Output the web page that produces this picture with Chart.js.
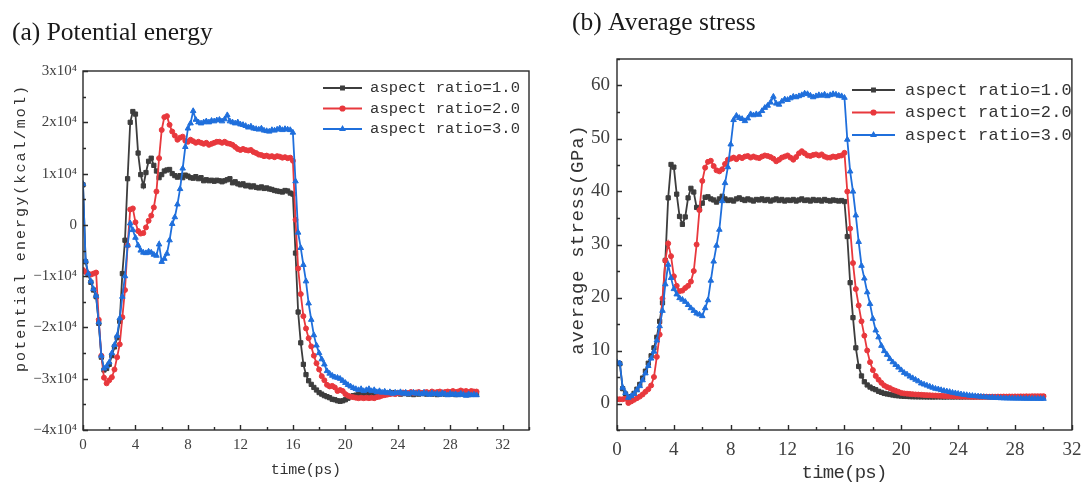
<!DOCTYPE html>
<html>
<head>
<meta charset="utf-8">
<script src="https://cdn.jsdelivr.net/npm/chart.js@4.4.1/dist/chart.umd.min.js"></script>
<style>
  html, body { margin: 0; padding: 0; background: #fff; }
  #wrap { position: relative; width: 1090px; height: 487px; }
  canvas { position: absolute; top: 0; }
  #peChart { left: 0; }
  #stressChart { left: 545px; }
</style>
</head>
<body>
<div id="wrap">
  <canvas id="peChart" width="545" height="487"></canvas>
  <canvas id="stressChart" width="545" height="487"></canvas>
</div>
<script>
// sampling times (ps)
const time = [
  0, 0.2, 0.4, 0.6, 0.8, 1, 1.2, 1.4, 1.6, 1.8,
  2, 2.2, 2.4, 2.6, 2.8, 3, 3.2, 3.4, 3.6, 3.8,
  4, 4.2, 4.4, 4.6, 4.8, 5, 5.2, 5.4, 5.6, 5.8,
  6, 6.2, 6.4, 6.6, 6.8, 7, 7.2, 7.4, 7.6, 7.8,
  8, 8.2, 8.4, 8.6, 8.8, 9, 9.2, 9.4, 9.6, 9.8,
  10, 10.2, 10.4, 10.6, 10.8, 11, 11.2, 11.4, 11.6, 11.8,
  12, 12.2, 12.4, 12.6, 12.8, 13, 13.2, 13.4, 13.6, 13.8,
  14, 14.2, 14.4, 14.6, 14.8, 15, 15.2, 15.4, 15.6, 15.8,
  16, 16.2, 16.4, 16.6, 16.8, 17, 17.2, 17.4, 17.6, 17.8,
  18, 18.2, 18.4, 18.6, 18.8, 19, 19.2, 19.4, 19.6, 19.8,
  20, 20.2, 20.4, 20.6, 20.8, 21, 21.2, 21.4, 21.6, 21.8,
  22, 22.2, 22.4, 22.6, 22.8, 23, 23.2, 23.4, 23.6, 23.8,
  24, 24.2, 24.4, 24.6, 24.8, 25, 25.2, 25.4, 25.6, 25.8,
  26, 26.2, 26.4, 26.6, 26.8, 27, 27.2, 27.4, 27.6, 27.8,
  28, 28.2, 28.4, 28.6, 28.8, 29, 29.2, 29.4, 29.6, 29.8,
  30
];

// (a) potential energy, in units of 10^4 kcal/mol
const peRatio1 = [
  0.78, -0.72, -0.97, -1.12, -1.27, -1.40, -1.92, -2.58, -2.83, -2.80,
  -2.72, -2.55, -2.38, -2.20, -1.88, -0.95, -0.30, 0.90, 2.00, 2.21,
  2.16, 1.40, 0.98, 0.76, 1.02, 1.24, 1.30, 1.16, 1.05, 0.92,
  0.98, 1.05, 1.07, 1.08, 1.00, 0.96, 0.93, 0.96, 0.92, 0.97,
  0.95, 0.92, 0.91, 0.94, 0.90, 0.92, 0.86, 0.88, 0.86, 0.87,
  0.85, 0.87, 0.86, 0.84, 0.86, 0.88, 0.90, 0.82, 0.84, 0.80,
  0.78, 0.80, 0.76, 0.77, 0.74, 0.76, 0.73, 0.72, 0.74, 0.71,
  0.72, 0.70, 0.69, 0.67, 0.66, 0.65, 0.64, 0.67, 0.66, 0.62,
  0.60, -0.55, -1.70, -2.30, -2.72, -2.92, -3.04, -3.11, -3.17, -3.22,
  -3.27, -3.30, -3.33, -3.35, -3.37, -3.40, -3.41, -3.43, -3.44, -3.43,
  -3.41, -3.38, -3.35, -3.33, -3.32, -3.31, -3.30, -3.31, -3.30, -3.29,
  -3.30, -3.29, -3.30, -3.28, -3.29, -3.30, -3.28, -3.29, -3.27, -3.29,
  -3.28, -3.30, -3.29, -3.28, -3.30, -3.29, -3.31, -3.29, -3.30, -3.28,
  -3.29, -3.30, -3.28, -3.30, -3.29, -3.31, -3.30, -3.28, -3.30, -3.29,
  -3.30, -3.29, -3.31, -3.30, -3.28, -3.30, -3.29, -3.31, -3.30, -3.29,
  -3.30
];
const peRatio2 = [
  -0.88, -0.92, -0.95, -0.97, -0.95, -0.93, -1.85, -2.55, -2.98, -3.09,
  -3.03, -2.97, -2.82, -2.58, -2.33, -1.80, -1.27, -0.40, 0.30, 0.32,
  0.05, -0.12, -0.17, -0.16, -0.05, 0.08, 0.18, 0.34, 0.65, 1.30,
  1.85, 2.10, 2.12, 1.95, 1.82, 1.74, 1.66, 1.70, 1.72, 1.64,
  1.62, 1.66, 1.63, 1.60, 1.62, 1.60, 1.58, 1.60, 1.56, 1.58,
  1.60, 1.62, 1.62, 1.60, 1.62, 1.59, 1.58, 1.56, 1.52, 1.48,
  1.46, 1.48, 1.46, 1.45, 1.46, 1.42, 1.40, 1.37, 1.36, 1.34,
  1.35, 1.33, 1.34, 1.32, 1.34, 1.33, 1.31, 1.32, 1.30, 1.31,
  1.25, 0.10, -0.85, -1.35, -1.78, -2.02, -2.21, -2.37, -2.55, -2.70,
  -2.82, -2.95, -3.03, -3.12, -3.15, -3.14, -3.17, -3.24, -3.22, -3.24,
  -3.30, -3.33, -3.35, -3.36, -3.37, -3.38, -3.37, -3.38, -3.37, -3.38,
  -3.37, -3.38, -3.36, -3.35, -3.33, -3.32, -3.31, -3.30, -3.29, -3.30,
  -3.28, -3.29, -3.27, -3.28, -3.28, -3.26, -3.28, -3.27, -3.26, -3.28,
  -3.27, -3.26, -3.28, -3.25, -3.27, -3.26, -3.25, -3.27, -3.26, -3.25,
  -3.26, -3.24, -3.26, -3.25, -3.23, -3.25, -3.24, -3.26, -3.24, -3.25,
  -3.25
];
const peRatio3 = [
  0.80, -0.70, -0.95, -1.10, -1.25, -1.38, -1.90, -2.55, -2.80, -2.76,
  -2.68, -2.50, -2.34, -2.16, -1.82, -1.40, -1.00, -0.40, 0.03, -0.10,
  -0.25, -0.40, -0.50, -0.54, -0.55, -0.52, -0.54, -0.58, -0.60, -0.38,
  -0.72, -0.66, -0.56, -0.30, 0.02, 0.15, 0.40, 0.70, 1.10, 1.52,
  1.88, 1.98, 2.22, 2.05, 2.00, 1.98, 2.00, 2.02, 2.00, 2.03,
  2.02, 2.04, 2.05, 2.02, 2.06, 2.14, 2.02, 2.00, 1.98, 2.00,
  1.96, 1.95, 1.93, 1.90, 1.92, 1.88, 1.87, 1.86, 1.88, 1.84,
  1.83, 1.82, 1.85, 1.84, 1.86, 1.88, 1.85, 1.87, 1.86, 1.85,
  1.80, 0.85, -0.15, -0.45, -0.78, -1.10, -1.53, -1.85, -2.15, -2.35,
  -2.50, -2.62, -2.72, -2.85, -2.90, -2.94, -2.97, -2.98, -3.00, -3.04,
  -3.08, -3.12, -3.15, -3.18, -3.20, -3.22, -3.20, -3.24, -3.22, -3.20,
  -3.24, -3.22, -3.26, -3.24, -3.27, -3.25, -3.28, -3.26, -3.29, -3.27,
  -3.28, -3.26, -3.29, -3.27, -3.30, -3.28, -3.27, -3.29, -3.28, -3.30,
  -3.27, -3.29, -3.31, -3.28, -3.30, -3.29, -3.31, -3.28, -3.30, -3.32,
  -3.29, -3.31, -3.30, -3.32, -3.29, -3.31, -3.33, -3.30, -3.32, -3.31,
  -3.32
];

// (b) average stress, GPa
const stressRatio1 = [
  7.6, 7.5, 2.8, 1.8, 1.0, 1.3, 1.9, 2.7, 3.6, 4.8,
  6.1, 7.6, 9.0, 10.5, 12.5, 15.5, 19.0, 27.0, 38.8, 45.1,
  44.6, 39.5, 35.3, 33.8, 35.2, 38.8, 40.6, 39.9, 37.0, 36.6,
  37.8, 38.9, 39.0, 38.6, 38.4, 38.0, 38.6, 39.1, 38.6, 38.3,
  38.4, 38.2, 38.6, 38.8, 38.5, 38.3, 38.6, 38.4, 38.2, 38.5,
  38.4, 38.6, 38.3, 38.5, 38.2, 38.4, 38.6, 38.3, 38.5, 38.2,
  38.4, 38.3, 38.5, 38.2, 38.4, 38.6, 38.3, 38.4, 38.2, 38.5,
  38.3, 38.4, 38.2, 38.5, 38.3, 38.2, 38.4, 38.3, 38.2, 38.3,
  38.1, 31.5, 22.8, 16.2, 10.5, 7.0, 5.2, 4.1, 3.5, 3.1,
  2.8, 2.6, 2.3, 2.1, 1.9, 1.8, 1.7, 1.6, 1.5, 1.45,
  1.4, 1.36, 1.33, 1.3, 1.28, 1.27, 1.26, 1.25, 1.25, 1.24,
  1.24, 1.23, 1.24, 1.25, 1.24, 1.23, 1.24, 1.25, 1.24, 1.25,
  1.25, 1.24, 1.26, 1.25, 1.26, 1.25, 1.26, 1.27, 1.26, 1.27,
  1.27, 1.26, 1.28, 1.27, 1.28, 1.27, 1.28, 1.29, 1.28, 1.29,
  1.29, 1.28, 1.30, 1.29, 1.30, 1.29, 1.30, 1.31, 1.30, 1.30,
  1.30
];
const stressRatio2 = [
  0.8, 0.8, 0.8, 0.9, 0.1, 0.4, 0.7, 1.0, 1.3, 1.7,
  2.2, 2.7, 3.4, 5.0, 8.8, 13.0, 19.8, 27.0, 30.2, 27.8,
  24.0, 22.2, 21.2, 21.3, 21.8, 22.2, 23.0, 25.0, 30.0, 36.5,
  42.0, 44.5, 45.6, 45.8, 44.8, 44.0, 43.8, 44.2, 45.2, 46.0,
  46.2, 46.4, 46.1, 46.5, 46.3, 46.6, 46.7, 46.4, 46.6, 46.4,
  46.3, 46.6, 46.8, 46.7, 46.5, 46.2, 45.7, 46.0, 46.4, 46.6,
  46.8, 46.4, 46.0, 46.5, 47.2, 47.6, 47.2, 46.8, 46.7, 46.9,
  47.0, 46.8, 47.0, 46.6, 46.4, 46.4, 46.6, 46.5, 46.7, 46.8,
  47.3, 40.0, 33.0, 26.5, 21.6, 18.5, 15.5, 12.8, 10.0, 7.8,
  6.3, 5.2, 4.5, 3.9, 3.4, 3.1, 2.9, 2.6, 2.4, 2.2,
  2.0, 1.9, 1.85, 1.8, 1.75, 1.7, 1.68, 1.65, 1.6, 1.58,
  1.55, 1.52, 1.5, 1.48, 1.45, 1.42, 1.4, 1.38, 1.36, 1.35,
  1.33, 1.32, 1.3, 1.3, 1.28, 1.27, 1.26, 1.27, 1.26, 1.27,
  1.28, 1.27, 1.29, 1.28, 1.3, 1.29, 1.31, 1.3, 1.32, 1.31,
  1.33, 1.32, 1.34, 1.33, 1.35, 1.34, 1.36, 1.35, 1.36, 1.37,
  1.38
];
const stressRatio3 = [
  7.8, 7.6, 3.0, 2.0, 1.1, 1.4, 1.8, 2.5, 3.3, 4.4,
  5.7, 7.1, 8.5, 9.8, 11.9, 14.6, 17.5, 22.5, 26.2, 23.7,
  21.6, 20.6, 19.9, 19.6, 19.2, 18.6, 18.0, 17.5, 17.0, 16.8,
  16.5, 18.0, 19.5, 23.2, 26.8, 29.8, 32.8, 38.2, 41.6, 44.6,
  48.9, 53.5, 54.3, 53.9, 53.7, 53.3, 53.8, 54.6, 54.4, 54.6,
  54.5, 55.2, 55.8, 56.2, 56.8, 57.9, 56.6, 56.4, 57.0, 57.4,
  57.3, 57.6, 57.9, 57.8, 58.0, 58.2, 58.5, 58.4, 58.1, 57.8,
  58.0, 58.2, 58.1, 58.3, 58.0, 58.2, 58.4, 58.3, 58.1, 58.0,
  57.7, 49.8, 43.8, 40.0, 35.5, 30.5, 26.0, 23.6, 21.0, 18.8,
  16.0, 13.8, 12.5, 10.9, 9.9, 9.2, 8.4, 7.8, 7.3, 6.8,
  6.3, 5.8, 5.5, 5.1, 4.8, 4.5, 4.2, 3.8, 3.6, 3.4,
  3.2, 3.0, 2.8, 2.7, 2.55, 2.4, 2.3, 2.2, 2.05, 1.95,
  1.85, 1.75, 1.65, 1.6, 1.5, 1.45, 1.4, 1.35, 1.3, 1.25,
  1.2, 1.15, 1.12, 1.08, 1.05, 1.02, 1.0, 0.98, 0.97, 0.96,
  0.95, 0.94, 0.94, 0.93, 0.93, 0.92, 0.92, 0.92, 0.91, 0.91,
  0.9
];

const xTicks = [0, 4, 8, 12, 16, 20, 24, 28, 32];
const peTicks = [-4, -3, -2, -1, 0, 1, 2, 3];
const stressTicks = [0, 10, 20, 30, 40, 50, 60];
const seriesLabels = ['aspect ratio=1.0', 'aspect ratio=2.0', 'aspect ratio=3.0'];

const colors = ['#3d3d3d', '#e8383d', '#1f6fdc'];
const pointStyles = ['rect', 'circle', 'triangle'];
const pointRadii = [3, 2.5, 3.2];

// draw text stretched with letter spacing so it covers a given width
function spacedText(ctx, text, x, y, size, width, align) {
  ctx.font = size + 'px "Liberation Mono"';
  ctx.letterSpacing = '0px';
  const natural = ctx.measureText(text).width;
  const ls = (width - natural) / text.length;
  ctx.letterSpacing = ls + 'px';
  ctx.textAlign = align;
  ctx.textBaseline = 'middle';
  ctx.fillText(text, align === 'center' ? x + ls / 2 : x, y);
  ctx.letterSpacing = '0px';
}

const decorPlugin = {
  id: 'decor',
  afterDraw(chart, args, o) {
    const { ctx, chartArea: a } = chart;
    const xs = chart.scales.x, ys = chart.scales.y;
    ctx.save();
    ctx.strokeStyle = '#2a2a2a';
    ctx.lineWidth = 1.4;
    ctx.strokeRect(a.left, a.top, a.right - a.left, a.bottom - a.top);

    // inward ticks, major + minor
    ctx.beginPath();
    for (let v = xs.min; v <= xs.max + 1e-9; v += o.xStep / 2) {
      const px = Math.round(xs.getPixelForValue(v)) + 0.5;
      const len = Math.abs(v % o.xStep) < 1e-9 ? 5 : 3;
      ctx.moveTo(px, a.bottom);
      ctx.lineTo(px, a.bottom - len);
    }
    for (let v = ys.min; v <= ys.max + 1e-9; v += o.yStep / 2) {
      const py = Math.round(ys.getPixelForValue(v)) + 0.5;
      const len = Math.abs(v % o.yStep) < 1e-9 ? 5 : 3;
      ctx.moveTo(a.left, py);
      ctx.lineTo(a.left + len, py);
    }
    ctx.stroke();

    // axis titles
    ctx.fillStyle = '#333';
    const xt = o.xTitle;
    spacedText(ctx, xt.text, (a.left + a.right) / 2, xt.y, xt.size, xt.width, 'center');
    const yt = o.yTitle;
    ctx.save();
    ctx.translate(yt.x, yt.y);
    ctx.rotate(-Math.PI / 2);
    spacedText(ctx, yt.text, 0, 0, yt.size, yt.width, 'center');
    ctx.restore();

    // legend
    const lg = o.legend;
    chart.data.datasets.forEach((ds, i) => {
      const y = lg.top + i * lg.gap;
      ctx.strokeStyle = ds.borderColor;
      ctx.fillStyle = ds.borderColor;
      ctx.lineWidth = 1.8;
      ctx.beginPath();
      ctx.moveTo(lg.x1, y);
      ctx.lineTo(lg.x2, y);
      ctx.stroke();
      Chart.helpers.drawPoint(ctx, { pointStyle: ds.pointStyle, radius: 2.2, rotation: 0, borderWidth: 1 }, (lg.x1 + lg.x2) / 2, y);
      ctx.fillStyle = '#333';
      spacedText(ctx, ds.label, lg.textX, y, lg.size, lg.width, 'left');
    });
    ctx.restore();
  }
};

function makeDatasets(seriesList) {
  return seriesList.map((vals, i) => ({
    label: seriesLabels[i],
    data: time.map((t, k) => ({ x: t, y: vals[k] })),
    borderColor: colors[i],
    backgroundColor: colors[i],
    pointBackgroundColor: colors[i],
    pointBorderColor: colors[i],
    pointStyle: pointStyles[i],
    pointRadius: pointRadii[i],
    pointBorderWidth: 1,
    borderWidth: 1.8,
    tension: 0,
    order: 3 - i
  }));
}

function makeChart(id, cfg) {
  return new Chart(document.getElementById(id), {
    type: 'line',
    data: { datasets: makeDatasets(cfg.series) },
    options: {
      responsive: false,
      animation: false,
      devicePixelRatio: 1,
      layout: { padding: { left: cfg.padLeft, right: cfg.padRight, top: 0, bottom: 0 } },
      plugins: {
        legend: { display: false },
        tooltip: { enabled: false },
        title: {
          display: true,
          text: cfg.title,
          align: 'start',
          color: '#1a1a1a',
          font: { family: '"Liberation Serif"', size: 25.5, weight: 'normal' },
          padding: cfg.titlePad
        },
        decor: cfg.decor
      },
      scales: {
        x: {
          type: 'linear',
          min: 0,
          max: cfg.xMax,
          grid: { display: false, drawTicks: false },
          border: { display: false },
          afterBuildTicks: s => { s.ticks = xTicks.map(v => ({ value: v })); },
          afterFit: s => { s.height = 57; },
          ticks: {
            autoSkip: false,
            maxRotation: 0,
            padding: cfg.xPad,
            color: '#404040',
            font: { family: '"Liberation Serif"', size: cfg.tickSize }
          }
        },
        y: {
          type: 'linear',
          min: cfg.yMin,
          max: cfg.yMax,
          grid: { display: false, drawTicks: false },
          border: { display: false },
          afterBuildTicks: s => { s.ticks = cfg.yTicks.map(v => ({ value: v })); },
          afterFit: s => { s.width = cfg.yWidth; },
          ticks: {
            autoSkip: false,
            padding: cfg.yPad,
            color: '#404040',
            font: { family: '"Liberation Serif"', size: cfg.tickSize },
            callback: cfg.yFormat
          }
        }
      }
    },
    plugins: [decorPlugin]
  });
}

makeChart('peChart', {
  series: [peRatio1, peRatio2, peRatio3],
  title: '(a) Potential energy',
  titlePad: { top: 17.5, bottom: 22.9 },
  padLeft: 12, padRight: 16,
  xMax: 34, yMin: -4, yMax: 3, yTicks: peTicks,
  yWidth: 71, xPad: 6.5, yPad: 6, tickSize: 15,
  yFormat: v => v === 0 ? '0' : (v < 0 ? '\u2212' + (-v) : v) + 'x10\u2074',
  decor: {
    xStep: 4, yStep: 1,
    xTitle: { text: 'time(ps)', y: 470, size: 15, width: 70 },
    yTitle: { text: 'potential energy(kcal/mol)', x: 21, y: 229, size: 15, width: 288 },
    legend: { top: 88, gap: 20.5, x1: 323, x2: 362, textX: 370, size: 15.5, width: 150 }
  }
});

makeChart('stressChart', {
  series: [stressRatio1, stressRatio2, stressRatio3],
  title: '(b) Average stress',
  titlePad: { top: 7.5, bottom: 20.9 },
  padLeft: 27, padRight: 12,
  xMax: 32, yMin: -5, yMax: 65, yTicks: stressTicks,
  yWidth: 45, xPad: 8.6, yPad: 7, tickSize: 19,
  yFormat: v => String(v),
  decor: {
    xStep: 4, yStep: 10,
    xTitle: { text: 'time(ps)', y: 473, size: 19, width: 85 },
    yTitle: { text: 'average stress(GPa)', x: 33, y: 240, size: 19, width: 230 },
    legend: { top: 90, gap: 22.5, x1: 307, x2: 350, textX: 360, size: 17, width: 167 }
  }
});
</script>
</body>
</html>
